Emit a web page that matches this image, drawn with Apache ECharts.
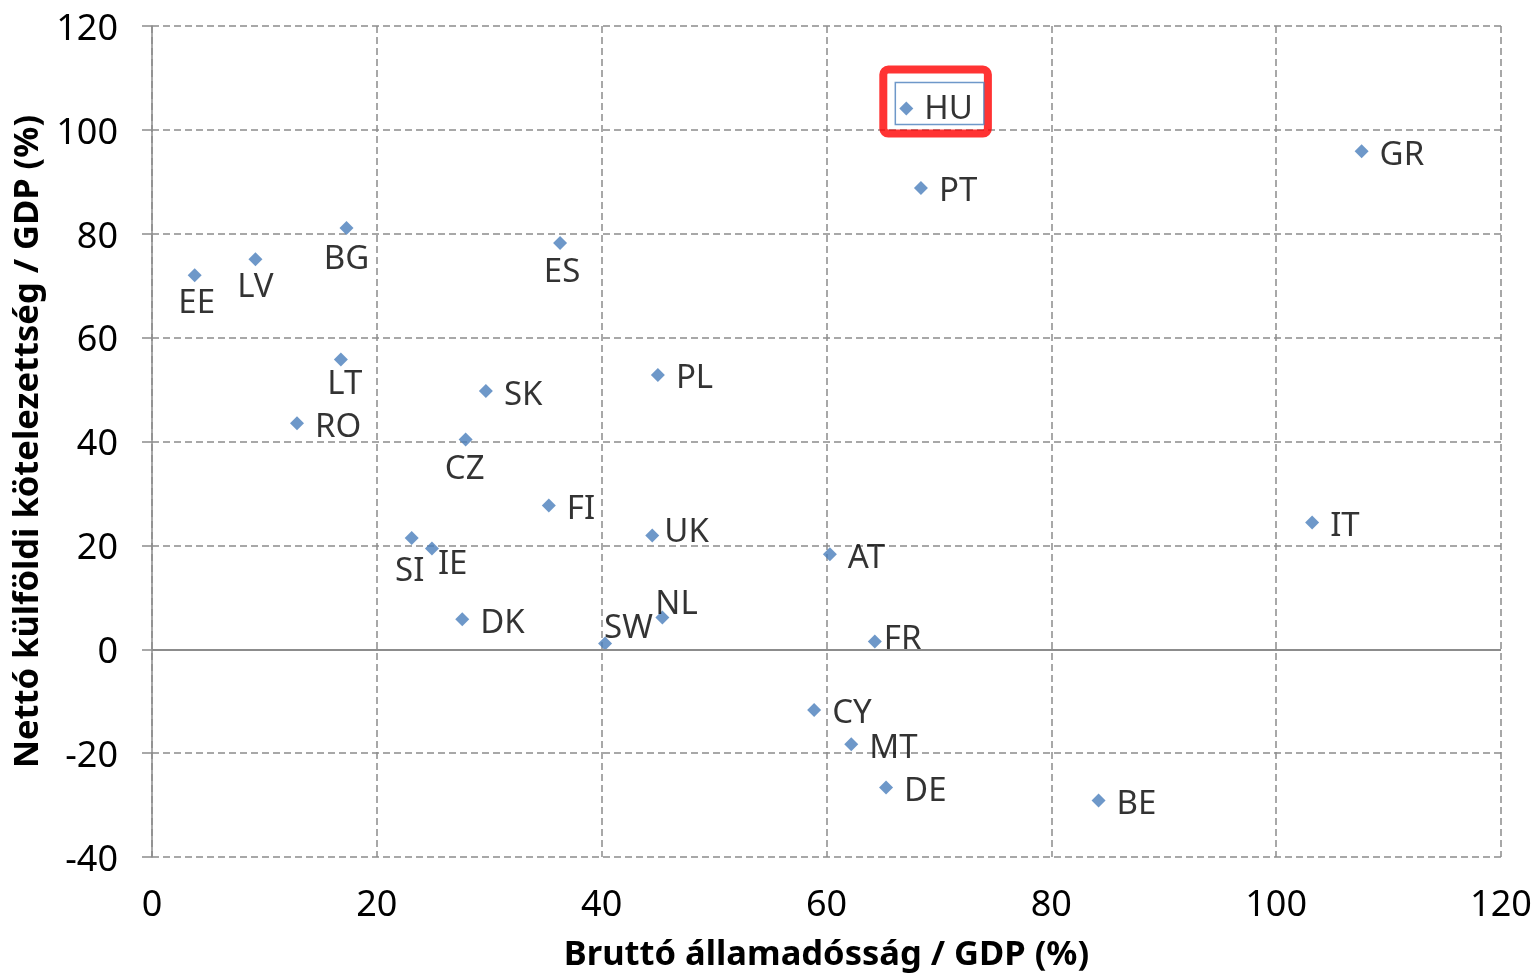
<!DOCTYPE html>
<html>
<head>
<meta charset="utf-8">
<script src="https://cdn.jsdelivr.net/npm/echarts@6/dist/echarts.min.js"></script>
<style>
html,body{margin:0;padding:0;background:#fff;}
#chart{width:1538px;height:973px;}
</style>
</head>
<body>
<div id="chart"></div>
<script>
// ---- data ----
const countries = ['EE','LV','BG','ES','LT','RO','SK','CZ','PL','FI','UK','SI','IE','DK','SW','NL','AT','FR','CY','MT','DE','BE','IT','GR','HU','PT'];
const grossDebt = [3.8, 9.2, 17.3, 36.3, 16.8, 12.9, 29.7, 27.9, 45.0, 35.3, 44.5, 23.1, 24.9, 27.6, 40.3, 45.4, 60.3, 64.3, 58.9, 62.2, 65.3, 84.2, 103.2, 107.6, 67.1, 68.4];
const netExtLiab = [72.0, 75.1, 81.1, 78.2, 55.8, 43.5, 49.7, 40.4, 52.8, 27.7, 21.9, 21.4, 19.4, 5.8, 1.1, 6.1, 18.3, 1.5, -11.7, -18.3, -26.6, -29.1, 24.4, 95.9, 104.1, 88.8];
const xTicks = [0, 20, 40, 60, 80, 100, 120];
const yTicks = [-40, -20, 0, 20, 40, 60, 80, 100, 120];
const highlighted = 'HU';
const xTitle = 'Bruttó államadósság / GDP (%)';
const yTitle = 'Nettó külföldi kötelezettség / GDP (%)';

// ---- label placement (style) ----
const below = {EE:[2,1], LV:[0,1], BG:[0,4], ES:[2,2], LT:[4,-2], CZ:[-1,3], SI:[-2,6]};
const rightAdj = {UK:[-6,-3], FR:[-9,-2], IE:[-12,16], SW:[-19,-15], NL:[-25,-13]};

const FONT = 'Noto Sans';
const gridColor = '#8c8c8c';

const points = countries.map((c, i) => {
  const item = {name: c, value: [grossDebt[i], netExtLiab[i]]};
  if (c === highlighted) {
    item.label = {
      position: 'right', distance: 0, offset: [-30, -7],
      formatter: '{b|{b}}',
      borderColor: '#ff0000', borderWidth: 8, borderRadius: 5,
      padding: [13, 4, 9, 12],
      rich: {
        b: {
          fontFamily: FONT, fontSize: 33, height: 29, lineHeight: 42, color: '#000',
          borderColor: '#4A7EBB', borderWidth: 1.5,
          padding: [13, 11, 0, 29]
        }
      }
    };
  } else if (below[c]) {
    item.label = {position: 'bottom', distance: 4, offset: [below[c][0], below[c][1]]};
  } else if (rightAdj[c]) {
    item.label = {position: 'right', offset: rightAdj[c]};
  }
  return item;
});

const chart = echarts.init(document.getElementById('chart'), null, {renderer: 'canvas'});
chart.setOption({
  backgroundColor: '#ffffff',
  animation: false,
  grid: {left: 152, right: 37, top: 26, bottom: 116, containLabel: false, outerBoundsMode: 'none'},
  xAxis: {
    type: 'value', min: xTicks[0], max: xTicks[xTicks.length - 1], interval: xTicks[1] - xTicks[0],
    name: xTitle, nameLocation: 'middle', nameGap: 81,
    nameTextStyle: {fontFamily: FONT, fontSize: 34.5, fontWeight: 'bold', color: '#000'},
    axisLine: {show: false},
    axisTick: {show: false},
    axisLabel: {fontFamily: FONT, fontSize: 36, color: '#000', margin: 31},
    splitLine: {show: true, lineStyle: {color: gridColor, width: 1.5, type: [7, 4]}}
  },
  yAxis: {
    type: 'value', min: yTicks[0], max: yTicks[yTicks.length - 1], interval: yTicks[1] - yTicks[0],
    name: yTitle, nameLocation: 'middle', nameGap: 93,
    nameTextStyle: {fontFamily: FONT, fontSize: 34.5, fontWeight: 'bold', color: '#000'},
    axisLine: {show: true, onZero: false, lineStyle: {color: gridColor, width: 1.5}},
    axisTick: {show: true, length: 10, lineStyle: {color: gridColor, width: 1.5}},
    axisLabel: {
      margin: 34,
      formatter: '{v|{value}}',
      rich: {v: {fontFamily: FONT, fontSize: 36, color: '#000', padding: [7, 0, 0, 0]}}
    },
    splitLine: {show: true, lineStyle: {color: gridColor, width: 1.5, type: [7, 4]}}
  },
  series: [{
    type: 'scatter',
    symbol: 'diamond',
    symbolSize: 14,
    itemStyle: {color: '#4A7EBB'},
    label: {
      show: true, position: 'right', distance: 11, offset: [0, 4],
      formatter: '{b}',
      fontFamily: FONT, fontSize: 33, lineHeight: 33, color: '#000'
    },
    emphasis: {disabled: true},
    data: points,
    markLine: {
      silent: true, symbol: 'none', animation: false,
      label: {show: false},
      lineStyle: {color: gridColor, width: 2, type: 'solid'},
      data: [{yAxis: 0}]
    }
  }]
});
</script>
</body>
</html>
